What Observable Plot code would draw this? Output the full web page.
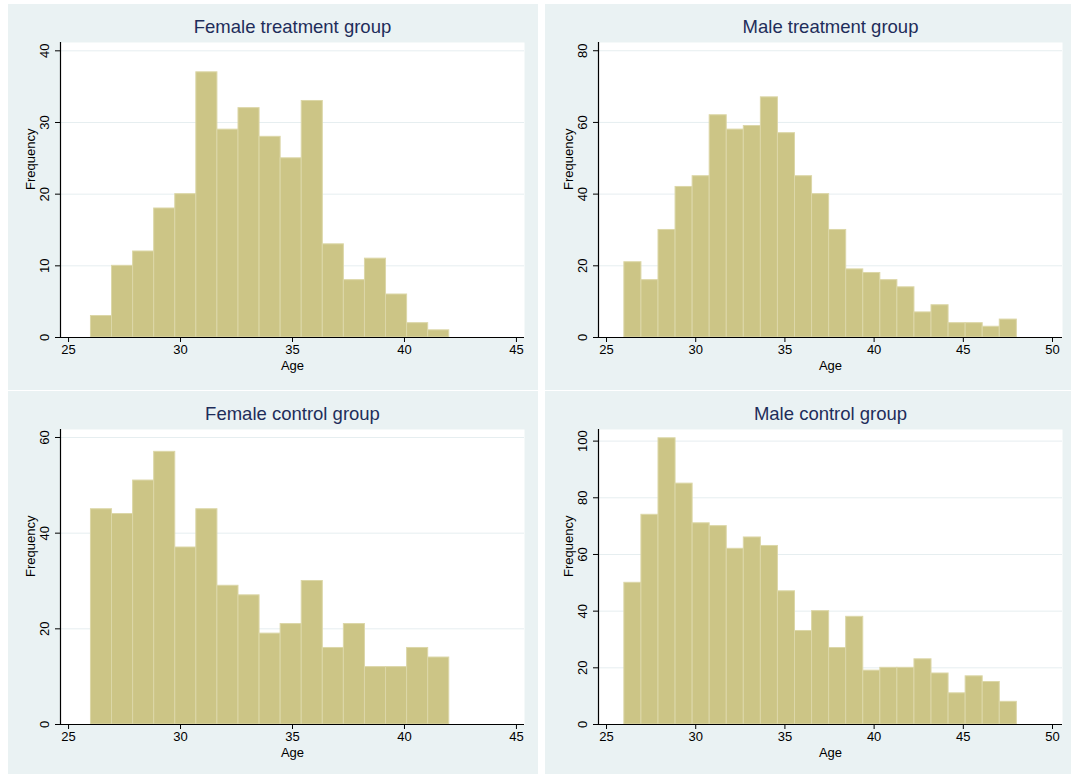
<!DOCTYPE html>
<html>
<head>
<meta charset="utf-8">
<script src="https://cdn.jsdelivr.net/npm/d3@7"></script>
<script src="https://cdn.jsdelivr.net/npm/@observablehq/plot@0.6"></script>
<style>
  html, body { margin: 0; padding: 0; background: #ffffff; }
  #root { position: relative; width: 1071px; height: 774px; overflow: hidden; background: #ffffff; }
  .panel { position: absolute; background: #eaf2f3; }
  .panel svg { display: block; }
</style>
</head>
<body>
<div id="root"></div>
<script>
// ---- Data ----
const titles = ["Female treatment group", "Male treatment group", "Female control group", "Male control group"];
const xLabel = "Age";
const yLabel = "Frequency";

// bin ranges (first bin start, last bin end)
const femaleRange = [26, 42];
const maleRange = [26, 48];

const femaleTreatment = [3, 10, 12, 18, 20, 37, 29, 32, 28, 25, 33, 13, 8, 11, 6, 2, 1];
const maleTreatment = [21, 16, 30, 42, 45, 62, 58, 59, 67, 57, 45, 40, 30, 19, 18, 16, 14, 7, 9, 4, 4, 3, 5];
const femaleControl = [45, 44, 51, 57, 37, 45, 29, 27, 19, 21, 30, 16, 21, 12, 12, 16, 14];
const maleControl = [50, 74, 101, 85, 71, 70, 62, 66, 63, 47, 33, 40, 27, 38, 19, 20, 20, 23, 18, 11, 17, 15, 8];

const femaleXTicks = [25, 30, 35, 40, 45];
const maleXTicks = [25, 30, 35, 40, 45, 50];
const ftYTicks = [0, 10, 20, 30, 40];
const mtYTicks = [0, 20, 40, 60, 80];
const fcYTicks = [0, 20, 40, 60];
const mcYTicks = [0, 20, 40, 60, 80, 100];

// ---- Build ----
function bins(counts, range) {
  const w = (range[1] - range[0]) / counts.length;
  return counts.map((c, i) => ({x1: range[0] + i * w, x2: range[0] + (i + 1) * w, count: c}));
}

const panels = [
  {title: titles[0], counts: femaleTreatment, range: femaleRange, xticks: femaleXTicks, yticks: ftYTicks,
   xdom: [24.64, 45.36], ydom: [0, 41.16], left: 8, top: 4, width: 530, height: 386, ml: 52, mr: 14, mt: 38, mb: 53},
  {title: titles[1], counts: maleTreatment, range: maleRange, xticks: maleXTicks, yticks: mtYTicks,
   xdom: [24.55, 50.56], ydom: [0, 82.3], left: 545, top: 4, width: 526, height: 386, ml: 53, mr: 9, mt: 38, mb: 53},
  {title: titles[2], counts: femaleControl, range: femaleRange, xticks: femaleXTicks, yticks: fcYTicks,
   xdom: [24.64, 45.36], ydom: [0, 61.67], left: 8, top: 391, width: 530, height: 383, ml: 52, mr: 14, mt: 38, mb: 50},
  {title: titles[3], counts: maleControl, range: maleRange, xticks: maleXTicks, yticks: mcYTicks,
   xdom: [24.55, 50.56], ydom: [0, 104.1], left: 545, top: 391, width: 526, height: 383, ml: 53, mr: 9, mt: 38, mb: 50}
];

const root = document.getElementById("root");
const font = "'Liberation Sans', Arial, Helvetica, sans-serif";

for (const p of panels) {
  const data = bins(p.counts, p.range);
  const chart = Plot.plot({
    width: p.width,
    height: p.height,
    marginLeft: p.ml,
    marginRight: p.mr,
    marginTop: p.mt,
    marginBottom: p.mb,
    style: {background: "transparent", fontFamily: font, fontSize: "13px", color: "#000"},
    x: {domain: p.xdom},
    y: {domain: p.ydom},
    marks: [
      Plot.frame({fill: "#ffffff", stroke: "none"}),
      Plot.gridY(p.yticks.filter(t => t > 0), {stroke: "#e6eef0", strokeOpacity: 1, strokeWidth: 1}),
      Plot.rectY(data, {x1: "x1", x2: "x2", y: "count", fill: "#ccc586", stroke: "#dcd7a8", strokeWidth: 1}),
      Plot.ruleX([p.xdom[0]], {stroke: "#000", strokeWidth: 1.2}),
      Plot.ruleY([0], {stroke: "#000", strokeWidth: 1.2}),
      Plot.axisX({ticks: p.xticks, tickSize: 5, tickPadding: 2, label: null, fontSize: 13, stroke: "#000"}),
      Plot.axisY({ticks: p.yticks, tickSize: 5, label: null, fill: "none", stroke: "#000"}),
      Plot.text(p.yticks, {x: p.xdom[0], y: d => d, text: d => String(d), rotate: -90, dx: -16,
        textAnchor: "middle", lineAnchor: "middle", fontSize: 13, fill: "#000"}),
      Plot.text([xLabel], {frameAnchor: "bottom", dy: 28, lineAnchor: "middle", fontSize: 13, fill: "#000"}),
      Plot.text([yLabel], {frameAnchor: "left", dx: -30, rotate: -90, lineAnchor: "middle", fontSize: 13, fill: "#000"}),
      Plot.text([p.title], {frameAnchor: "top", dy: -15, lineAnchor: "middle", fontSize: 18.5, fill: "#1e2d5a"})
    ]
  });
  const div = document.createElement("div");
  div.className = "panel";
  div.style.left = p.left + "px";
  div.style.top = p.top + "px";
  div.style.width = p.width + "px";
  div.style.height = p.height + "px";
  div.appendChild(chart);
  root.appendChild(div);
}
</script>
</body>
</html>
